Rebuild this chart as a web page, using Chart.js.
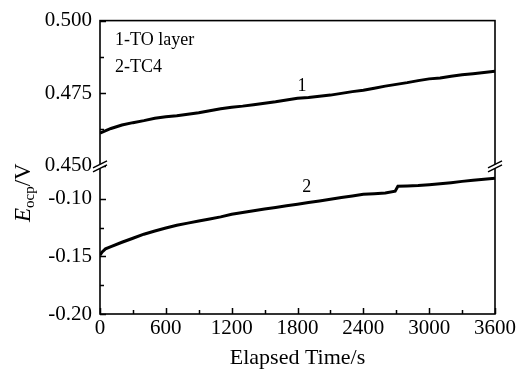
<!DOCTYPE html>
<html><head><meta charset="utf-8">
<style>html,body{margin:0;padding:0;background:#fff}#wrap{width:520px;height:369px}</style>
<script src="https://cdn.jsdelivr.net/npm/chart.js@4.4.0/dist/chart.umd.min.js"></script>
</head><body><div id="wrap"><canvas id="c" width="520" height="369"></canvas></div>
<script>
// ---- data ----
const toLayerTimes = [0,100,200,300,400,500,600,700,800,900,1000,1100,1200,1300,1400,1500,1600,1700,1800,1900,2000,2100,2200,2300,2400,2500,2600,2700,2800,2900,3000,3100,3200,3300,3400,3500,3600];
const toLayerE = [0.4612,0.4628,0.4640,0.4648,0.4655,0.4663,0.4668,0.4672,0.4677,0.4682,0.4689,0.4696,0.4701,0.4705,0.4710,0.4715,0.4720,0.4726,0.4732,0.4735,0.4739,0.4743,0.4749,0.4755,0.4760,0.4767,0.4774,0.4780,0.4786,0.4793,0.4799,0.4802,0.4808,0.4813,0.4817,0.4821,0.4825];
const tc4Times = [0,20,50,100,200,300,400,500,600,700,800,900,1000,1100,1200,1300,1400,1500,1600,1700,1800,1900,2000,2100,2200,2300,2400,2500,2600,2690,2715,2800,2900,3000,3100,3200,3300,3400,3500,3600];
const tc4E = [-0.1490,-0.1462,-0.1435,-0.1415,-0.1378,-0.1343,-0.1308,-0.1280,-0.1254,-0.1230,-0.1212,-0.1194,-0.1176,-0.1158,-0.1135,-0.1120,-0.1104,-0.1090,-0.1076,-0.1062,-0.1048,-0.1034,-0.1020,-0.1005,-0.0990,-0.0976,-0.0962,-0.0957,-0.0950,-0.0935,-0.0893,-0.0890,-0.0886,-0.0879,-0.0870,-0.0861,-0.0850,-0.0840,-0.0832,-0.0823];

const xTickValues = [0,600,1200,1800,2400,3000,3600];
const xMinorValues = [300,900,1500,2100,2700,3300];
const yTopTickValues = [0.450,0.475,0.500];
const yTopMinorValues = [0.4625,0.4875];
const yBotTickValues = [-0.20,-0.15,-0.10];
const yBotMinorValues = [-0.175,-0.125];
const legendLines = ['1-TO layer','2-TC4'];
const curveLabels = [
  {text:'1', x:1840, y:0.4775, axis:'yTop'},
  {text:'2', x:1885, y:-0.0905, axis:'yBot'}
];
const xTitle = 'Elapsed Time/s';

const SERIF = '"Liberation Serif","Times New Roman",serif';
const tickFont = {family: SERIF, size: 21};

const extras = {
  id: 'extras',
  afterDatasetsDraw(chart) {
    const ctx = chart.ctx;
    const a = chart.chartArea;
    const xs = chart.scales.x, yt = chart.scales.yTop, yb = chart.scales.yBot;
    ctx.save();
    ctx.strokeStyle = '#000';
    ctx.fillStyle = '#000';
    // frame
    ctx.lineWidth = 1.6;
    ctx.strokeRect(a.left, a.top, a.right - a.left, a.bottom - a.top);
    // inside ticks
    ctx.lineWidth = 1.5;
    ctx.beginPath();
    xTickValues.forEach(v => { const p = Math.round(xs.getPixelForValue(v)) + 0.5; ctx.moveTo(p, a.bottom); ctx.lineTo(p, a.bottom - 6); });
    xMinorValues.forEach(v => { const p = Math.round(xs.getPixelForValue(v)) + 0.5; ctx.moveTo(p, a.bottom); ctx.lineTo(p, a.bottom - 4); });
    yTopTickValues.forEach(v => { const p = Math.round(yt.getPixelForValue(v)) + 0.5; ctx.moveTo(a.left, p); ctx.lineTo(a.left + 6, p); });
    yTopMinorValues.forEach(v => { const p = Math.round(yt.getPixelForValue(v)) + 0.5; ctx.moveTo(a.left, p); ctx.lineTo(a.left + 4, p); });
    yBotTickValues.forEach(v => { const p = Math.round(yb.getPixelForValue(v)) + 0.5; ctx.moveTo(a.left, p); ctx.lineTo(a.left + 6, p); });
    yBotMinorValues.forEach(v => { const p = Math.round(yb.getPixelForValue(v)) + 0.5; ctx.moveTo(a.left, p); ctx.lineTo(a.left + 4, p); });
    ctx.stroke();
    // axis breaks
    const by = yt.bottom;
    [[a.left, by], [a.right, by]].forEach(([bx, y0]) => {
      ctx.fillStyle = '#fff';
      ctx.beginPath();
      ctx.moveTo(bx - 6, y0 + 4); ctx.lineTo(bx + 6, y0 - 2);
      ctx.lineTo(bx + 6, y0 - 6); ctx.lineTo(bx - 6, y0);
      ctx.closePath(); ctx.fill();
      ctx.strokeStyle = '#000'; ctx.lineWidth = 1.5;
      ctx.beginPath();
      ctx.moveTo(bx - 7, y0 + 4.5); ctx.lineTo(bx + 7, y0 - 2.5);
      ctx.moveTo(bx - 7, y0 + 0.5); ctx.lineTo(bx + 7, y0 - 6.5);
      ctx.stroke();
    });
    ctx.fillStyle = '#000';
    // legend text
    ctx.font = '18px ' + SERIF;
    ctx.textAlign = 'left'; ctx.textBaseline = 'middle';
    ctx.fillText(legendLines[0], a.left + 15, a.top + 20);
    ctx.fillText(legendLines[1], a.left + 15, a.top + 47);
    // curve labels
    ctx.textAlign = 'center';
    curveLabels.forEach(l => {
      const sc = chart.scales[l.axis];
      ctx.fillText(l.text, xs.getPixelForValue(l.x), sc.getPixelForValue(l.y));
    });
    // y title: E_ocp/V rotated
    ctx.translate(30, 222);
    ctx.rotate(-Math.PI / 2);
    ctx.textAlign = 'left'; ctx.textBaseline = 'alphabetic';
    ctx.font = 'italic 23px ' + SERIF;
    ctx.fillText('E', 0, 0);
    let w = ctx.measureText('E').width;
    ctx.font = '15px ' + SERIF;
    ctx.fillText('ocp', w, 4);
    w += ctx.measureText('ocp').width;
    ctx.font = '23px ' + SERIF;
    ctx.fillText('/V', w, 0);
    ctx.restore();
  }
};

const yCommon = {
  type: 'linear', position: 'left', stack: 'v', stackWeight: 1,
  grid: {display: false, drawTicks: false}, border: {display: false},
  ticks: {font: tickFont, color: '#000', padding: 8},
  afterFit: s => { s.width = 100; }
};

new Chart(document.getElementById('c'), {
  type: 'line',
  data: {
    datasets: [
      {label: '1-TO layer', data: toLayerTimes.map((t, i) => ({x: t, y: toLayerE[i]})), yAxisID: 'yTop',
       borderColor: '#000', borderWidth: 3, pointRadius: 0, tension: 0, fill: false},
      {label: '2-TC4', data: tc4Times.map((t, i) => ({x: t, y: tc4E[i]})), yAxisID: 'yBot',
       borderColor: '#000', borderWidth: 3, pointRadius: 0, tension: 0, fill: false}
    ]
  },
  options: {
    responsive: false, animation: false, devicePixelRatio: 1,
    layout: {padding: {left: 0, right: 25, top: 18, bottom: 0}},
    plugins: {legend: {display: false}, tooltip: {enabled: false}},
    scales: {
      x: {
        type: 'linear', position: 'bottom', min: 0, max: 3600,
        grid: {display: false, drawTicks: false}, border: {display: false},
        afterBuildTicks: s => { s.ticks = xTickValues.map(v => ({value: v})); },
        ticks: {font: tickFont, color: '#000', padding: 2, maxRotation: 0, autoSkip: false, callback: v => String(v)},
        title: {display: true, text: xTitle, color: '#000', font: {family: SERIF, size: 22}, padding: {top: 0, bottom: -2}},
        afterFit: s => { s.height = 55; }
      },
      yBot: Object.assign({}, yCommon, {
        min: -0.20, max: -0.0728,
        afterBuildTicks: s => { s.ticks = yBotTickValues.map(v => ({value: v})); },
        ticks: Object.assign({}, yCommon.ticks, {callback: v => Number(v).toFixed(2)})
      }),
      yTop: Object.assign({}, yCommon, {
        min: 0.4494, max: 0.5,
        afterBuildTicks: s => { s.ticks = yTopTickValues.map(v => ({value: v})); },
        ticks: Object.assign({}, yCommon.ticks, {callback: v => Number(v).toFixed(3)})
      })
    }
  },
  plugins: [extras]
});
</script>
</body></html>
